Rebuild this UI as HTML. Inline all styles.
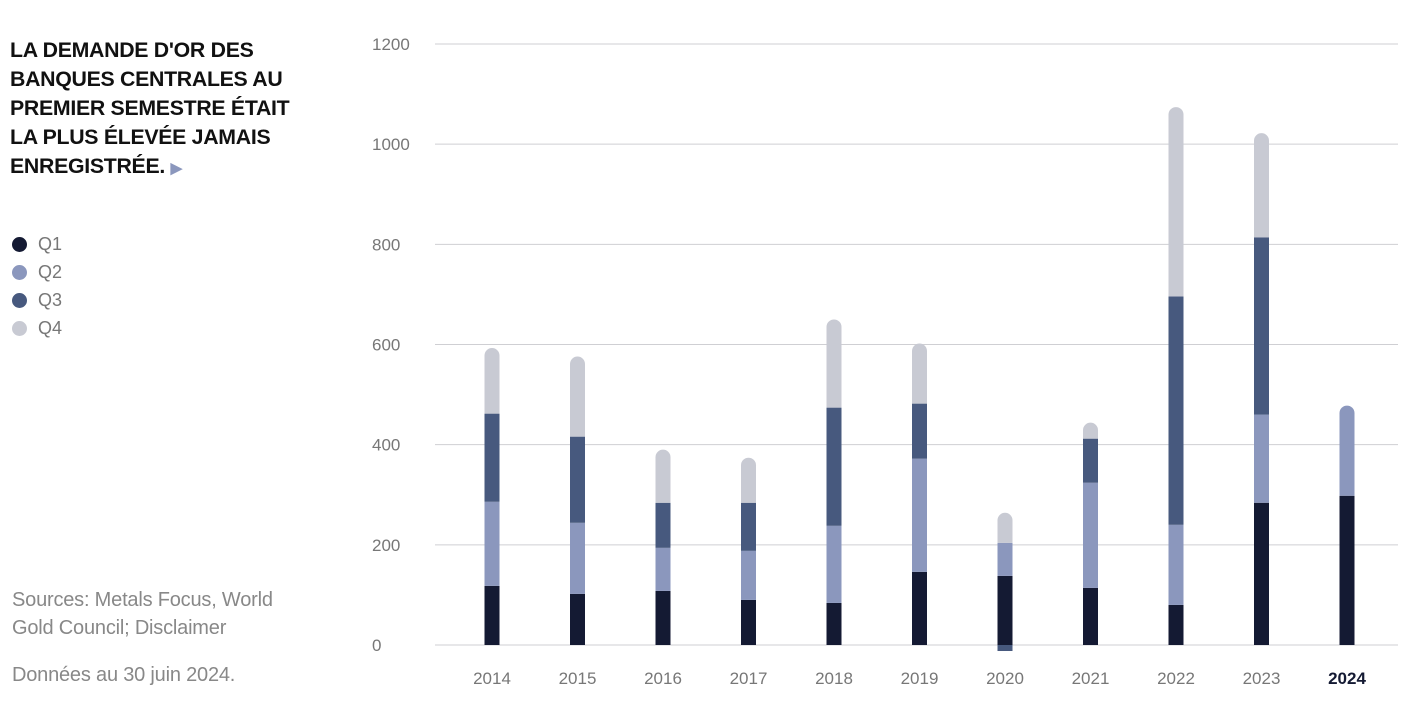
<!DOCTYPE html>
<html><head><meta charset="utf-8"><style>
body{margin:0;width:1414px;height:712px;background:#fff;font-family:"Liberation Sans",sans-serif;overflow:hidden;position:relative}
.title{position:absolute;left:10px;top:36px;font-size:21.3px;font-weight:bold;line-height:29px;color:#111;letter-spacing:-0.3px}
.legend{position:absolute;left:12px;top:230px;font-size:18px;color:#777;line-height:28px}
.legend div{display:flex;align-items:center}
.dot{width:15px;height:15px;border-radius:50%;display:inline-block;margin-right:11px}
.src{position:absolute;left:12px;top:586px;font-size:20px;color:#888;line-height:28px;letter-spacing:-0.2px}
.date{position:absolute;left:12px;top:664px;font-size:20px;color:#888;letter-spacing:-0.2px}
</style></head><body>
<div class="title">LA DEMANDE D'OR DES<br>BANQUES CENTRALES AU<br>PREMIER SEMESTRE ÉTAIT<br>LA PLUS ÉLEVÉE JAMAIS<br>ENREGISTRÉE. <span style="color:#8b97bd;font-size:15px">&#9654;</span></div>
<div class="legend">
<div><span class="dot" style="background:#141a33"></span>Q1</div>
<div><span class="dot" style="background:#8b97bd"></span>Q2</div>
<div><span class="dot" style="background:#47597e"></span>Q3</div>
<div><span class="dot" style="background:#c8cad3"></span>Q4</div>
</div>
<div class="src">Sources: Metals Focus, World<br>Gold Council; Disclaimer</div>
<div class="date">Données au 30 juin 2024.</div>
<svg id="chart" width="1414" height="712" style="position:absolute;left:0;top:0"></svg>
<script>
const years=["2014","2015","2016","2017","2018","2019","2020","2021","2022","2023","2024"];
const q1=[118,102,108,90,84,146,138,114,80,284,298];
const q2=[168,142,86,98,154,226,66,210,160,176,180];
const q3=[176,172,90,96,236,110,-12,88,456,354,0];
const q4=[131,160,106,90,176,120,60,32,378,208,0];
const yTicks=[0,200,400,600,800,1000,1200];
const colors=["#141a33","#8b97bd","#47597e","#c8cad3"];
const NS="http://www.w3.org/2000/svg";
const svg=document.getElementById('chart');
const y=v=>645-v*(601/1200);
const x=i=>492+i*85.5;
const bw=15;
function mk(t,a){const e=document.createElementNS(NS,t);for(const k in a)e.setAttribute(k,a[k]);svg.appendChild(e);return e;}
yTicks.forEach(t=>{
 const l=mk('line',{x1:435,x2:1398,y1:y(t),y2:y(t),stroke:'#cfcfd3','stroke-width':1});
 
 
 const tx=mk('text',{x:372,y:y(t)+6,'font-size':17,fill:'#777'});
 tx.textContent=t;
 
 
});
const series=[q1,q2,q3,q4];
years.forEach((yr,i)=>{
 let pos=0,neg=0;
 const segs=[];
 series.forEach((s,k)=>{
  const v=s[i];if(!v)return;
  let a,b;
  if(v>0){a=pos;b=pos+v;pos=b;}else{a=neg+v;b=neg;neg=a;}
  segs.push({k,a,b,v});
 });
 let topSeg=null;segs.forEach(s=>{if(s.v>0)topSeg=s;});
 segs.forEach(s=>{
  const yt=y(s.b),yb=y(s.a),x0=x(i)-bw/2;
  let e;
  if(s===topSeg){
   const r=bw/2;
   e=mk('path',{d:`M${x0},${yb}V${yt+r}A${r},${r} 0 0 1 ${x0+bw},${yt+r}V${yb}Z`,fill:colors[s.k]});
  }else e=mk('rect',{x:x0,y:yt,width:bw,height:yb-yt,fill:colors[s.k]});
  
  
 });
 const tx=mk('text',{x:x(i),y:684,'font-size':17,fill:yr==='2024'?'#141a33':'#777','text-anchor':'middle','font-weight':yr==='2024'?'bold':'normal'});
 tx.textContent=yr;
 
 
});
</script>
</body></html>
